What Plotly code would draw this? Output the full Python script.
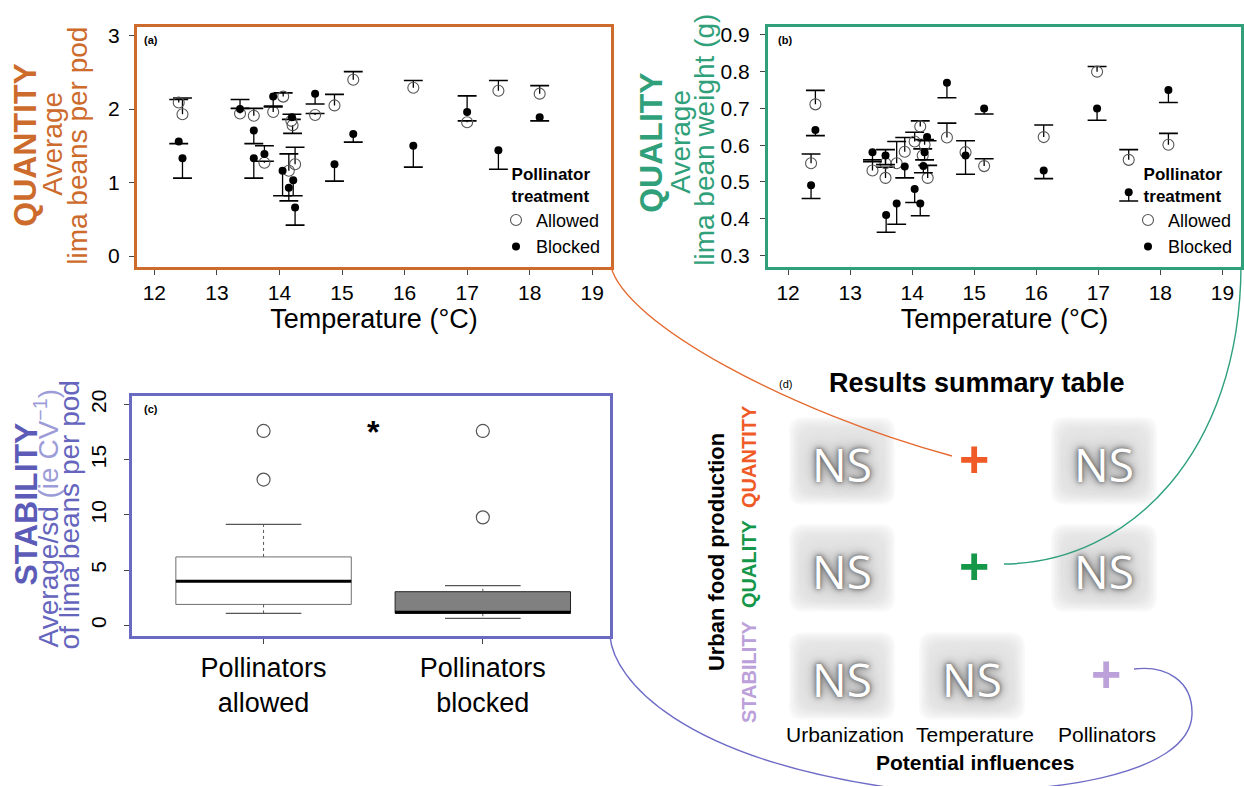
import plotly.graph_objects as go

FONT = "Liberation Sans, Arial, Helvetica, sans-serif"

# ---------------- (a) Quantity: average lima beans per pod ----------------
qty_allowed_temp = [12.39, 12.45, 13.37, 13.59, 13.76, 13.90, 14.06, 14.15, 14.25,
                    14.19, 14.21, 14.57, 14.88, 15.18, 16.14, 17.00, 17.50, 18.16]
qty_allowed_mean = [2.09, 1.93, 1.94, 1.91, 1.27, 1.96, 2.17, 1.16, 1.25,
                    1.84, 1.78, 1.92, 2.05, 2.40, 2.29, 1.82, 2.25, 2.21]
qty_allowed_end = [2.13, 2.15, 2.01, 2.01, 1.29, 2.04, 2.22, 1.39, 1.48,
                   1.86, 1.67, 1.94, 2.20, 2.51, 2.39, 1.84, 2.39, 2.32]

qty_blocked_temp = [12.39, 12.45, 13.37, 13.59, 13.59, 13.76, 13.90, 14.05, 14.15,
                    14.20, 14.22, 14.25, 14.57, 14.88, 15.18, 16.14, 17.00, 17.50, 18.16]
qty_blocked_mean = [1.56, 1.33, 2.00, 1.71, 1.33, 1.39, 2.17, 1.16, 0.93,
                    1.89, 1.03, 0.66, 2.21, 1.25, 1.66, 1.50, 1.96, 1.44, 1.89]
qty_blocked_end = [1.53, 1.06, 2.13, 1.53, 1.06, 1.50, 2.03, 0.82, 0.75,
                   1.93, 0.82, 0.42, 2.07, 1.02, 1.55, 1.21, 2.18, 1.18, 1.84]

# ---------------- (b) Quality: average lima bean weight (g) ----------------
qual_allowed_temp = [12.44, 12.37, 13.36, 13.57, 13.57, 13.75, 13.88, 14.04, 14.13, 14.20,
                     14.17, 14.25, 14.56, 14.86, 15.16, 16.12, 16.98, 17.49, 18.13]
qual_allowed_mean = [0.711, 0.551, 0.531, 0.551, 0.511, 0.551, 0.582, 0.610, 0.651, 0.601,
                     0.572, 0.511, 0.621, 0.581, 0.543, 0.622, 0.800, 0.560, 0.601]
qual_allowed_end = [0.749, 0.576, 0.560, 0.588, 0.540, 0.610, 0.621, 0.635, 0.666, 0.615,
                    0.590, 0.545, 0.660, 0.612, 0.563, 0.655, 0.814, 0.588, 0.632]

qual_blocked_temp = [12.44, 12.37, 13.36, 13.57, 13.58, 13.75, 13.88, 14.04, 14.13, 14.24,
                     14.20, 14.18, 14.56, 14.86, 15.16, 16.12, 16.98, 17.49, 18.13]
qual_blocked_mean = [0.641, 0.491, 0.581, 0.572, 0.410, 0.441, 0.542, 0.481, 0.441, 0.622,
                     0.581, 0.543, 0.770, 0.572, 0.700, 0.531, 0.700, 0.472, 0.750]
qual_blocked_end = [0.626, 0.455, 0.555, 0.547, 0.363, 0.385, 0.511, 0.444, 0.408, 0.612,
                    0.560, 0.525, 0.729, 0.521, 0.685, 0.509, 0.668, 0.448, 0.716]

temp_ticks = [12, 13, 14, 15, 16, 17, 18, 19]

# ---------------- (c) Stability: average/sd of lima beans per pod ----------------
box_pos = [1, 2]
box_labels = ["Pollinators<br>allowed", "Pollinators<br>blocked"]
box_q1 = [1.9, 1.1]
box_median = [4.0, 1.2]
box_q3 = [6.2, 3.05]
box_lower = [1.08, 0.63]
box_upper = [9.15, 3.6]
outlier_pos = [1, 1, 2, 2]
outlier_val = [13.2, 17.6, 9.78, 17.6]
BOX_WIDTH = 0.8

# ---------------- (d) Results summary table ----------------
table_rows = ["QUANTITY", "QUALITY", "STABILITY"]
table_cols = ["Urbanization", "Temperature", "Pollinators"]
table_cells = [["NS", "+", "NS"],
               ["NS", "+", "NS"],
               ["NS", "NS", "+"]]
row_colors = ["#EF5A26", "#15974A", "#BBA0DA"]

ORANGE = "#CD6B2C"
GREEN = "#30A07A"
BLUE = "#6A6AC2"

fig = go.Figure()


def one_sided(mean, end):
    plus = [max(e - m, 0) for m, e in zip(mean, end)]
    minus = [max(m - e, 0) for m, e in zip(mean, end)]
    return plus, minus


def add_treatment(temp, mean, end, xa, ya, name, marker, legend):
    plus, minus = one_sided(mean, end)
    # error bar caps
    fig.add_trace(go.Scatter(
        x=temp, y=end, mode="markers", xaxis=xa, yaxis=ya, showlegend=False,
        hoverinfo="skip",
        marker=dict(symbol="line-ew", size=13.5, color="black",
                    line=dict(width=1.6, color="black"))))
    fig.add_trace(go.Scatter(
        x=temp, y=mean, mode="markers", xaxis=xa, yaxis=ya, name=name,
        legend=legend, marker=marker,
        error_y=dict(type="data", symmetric=False, array=plus, arrayminus=minus,
                     width=0, thickness=1.3, color="black")))


open_marker = dict(symbol="circle-open", size=11, color="#555555", line=dict(width=1.1))
dot_marker = dict(symbol="circle", size=8, color="black")

add_treatment(qty_allowed_temp, qty_allowed_mean, qty_allowed_end, "x", "y",
              "Allowed", open_marker, "legend")
add_treatment(qty_blocked_temp, qty_blocked_mean, qty_blocked_end, "x", "y",
              "Blocked", dot_marker, "legend")
add_treatment(qual_allowed_temp, qual_allowed_mean, qual_allowed_end, "x2", "y2",
              "Allowed", open_marker, "legend2")
add_treatment(qual_blocked_temp, qual_blocked_mean, qual_blocked_end, "x2", "y2",
              "Blocked", dot_marker, "legend2")

# ---- boxplots (c)
box_fill = ["white", "#808080"]
box_edge = ["#6f6f6f", "#222222"]
for i, p in enumerate(box_pos):
    fig.add_trace(go.Box(
        x=[p], q1=[box_q1[i]], median=[box_median[i]], q3=[box_q3[i]],
        lowerfence=[box_q1[i]], upperfence=[box_q3[i]],
        width=BOX_WIDTH, whiskerwidth=0, fillcolor=box_fill[i],
        line=dict(color=box_edge[i], width=1), boxpoints=False,
        xaxis="x3", yaxis="y3", showlegend=False, hoverinfo="skip"))
    # dashed whiskers
    fig.add_trace(go.Scatter(
        x=[p, p, None, p, p], y=[box_q3[i], box_upper[i], None, box_q1[i], box_lower[i]],
        mode="lines", line=dict(color="#555555", width=1, dash="3px,3px"),
        xaxis="x3", yaxis="y3", showlegend=False, hoverinfo="skip"))
    # staples
    fig.add_trace(go.Scatter(
        x=[p, p], y=[box_lower[i], box_upper[i]], mode="markers",
        marker=dict(symbol="line-ew", size=54, line=dict(width=1.2, color="#555555")),
        xaxis="x3", yaxis="y3", showlegend=False, hoverinfo="skip"))
    # heavy median line
    fig.add_trace(go.Scatter(
        x=[p - BOX_WIDTH / 2, p + BOX_WIDTH / 2], y=[box_median[i], box_median[i]],
        mode="lines", line=dict(color="black", width=3),
        xaxis="x3", yaxis="y3", showlegend=False, hoverinfo="skip"))

fig.add_trace(go.Scatter(
    x=outlier_pos, y=outlier_val, mode="markers",
    marker=dict(symbol="circle-open", size=13, color="#555555", line=dict(width=1.2)),
    xaxis="x3", yaxis="y3", showlegend=False, hoverinfo="skip"))

W, H = 1244, 787


def dom_x(a, b):
    return [a / W, b / W]


def dom_y(top, bottom):
    return [1 - bottom / H, 1 - top / H]


tickfont = dict(family=FONT, size=21, color="black")
common = dict(showgrid=False, zeroline=False, ticks="outside", ticklen=5,
              tickcolor="#444444", tickwidth=1, showline=True, linewidth=3,
              mirror=True)
xtitle = dict(text="Temperature (°C)", font=dict(size=27), standoff=2)

fig.update_layout(
    width=W, height=H, margin=dict(l=0, r=0, t=0, b=0),
    paper_bgcolor="white", plot_bgcolor="rgba(0,0,0,0)",
    font=dict(family=FONT, color="black"),
    xaxis=dict(domain=dom_x(137, 611), anchor="y", range=[11.723, 19.30],
               tickvals=temp_ticks, linecolor=ORANGE, tickfont=tickfont,
               title=xtitle, **common),
    yaxis=dict(domain=dom_y(21, 263), anchor="x", range=[-0.145, 3.12],
               tickvals=[0, 1, 2, 3], linecolor=ORANGE, ticklabelstandoff=5,
               tickfont=tickfont, **common),
    xaxis2=dict(domain=dom_x(768, 1241), anchor="y2", range=[11.676, 19.30],
                tickvals=temp_ticks, linecolor=GREEN, tickfont=tickfont,
                title=xtitle, **common),
    yaxis2=dict(domain=dom_y(21, 263), anchor="x2", range=[0.2695, 0.922],
                tickvals=[0.3, 0.4, 0.5, 0.6, 0.7, 0.8, 0.9], tickformat=".1f",
                linecolor=GREEN, ticklabelstandoff=6, tickfont=tickfont, **common),
    xaxis3=dict(domain=dom_x(132, 610), anchor="y3", range=[0.4, 2.58],
                tickvals=box_pos, ticktext=box_labels, linecolor=BLUE,
                ticklabelstandoff=0, tickfont=dict(family=FONT, size=27), **common),
    yaxis3=dict(domain=dom_y(393, 636), anchor="x3", range=[-0.99, 20.81],
                tickvals=[0, 5, 10, 15, 20], tickangle=-90, linecolor=BLUE,
                ticklabelstandoff=10, tickfont=tickfont, **common),
    xaxis4=dict(domain=[0, 1], anchor="y4", range=[0, W], visible=False, fixedrange=True),
    yaxis4=dict(domain=[0, 1], anchor="x4", range=[H, 0], visible=False, fixedrange=True),
)

legend_common = dict(
    xanchor="right", yanchor="top", bgcolor="rgba(0,0,0,0)",
    font=dict(family=FONT, size=18, color="black"), itemwidth=30, tracegroupgap=0,
    title=dict(text="Pollinator<br>treatment", side="top center",
               font=dict(family=FONT, size=17, weight="bold")))
fig.update_layout(
    legend=dict(x=606 / W, y=1 - 153 / H, **legend_common),
    legend2=dict(x=1238 / W, y=1 - 153 / H, **legend_common),
)

ann = []


def text(x, y, s, size, color="black", bold=False, angle=0, ref=("x4", "y4"),
         family=FONT, shadow=None, xshift=0, yshift=0):
    font = dict(family=family, size=size, color=color,
                weight="bold" if bold else "normal")
    if shadow:
        font["shadow"] = shadow
    ann.append(dict(x=x, y=y, xref=ref[0], yref=ref[1], text=s, showarrow=False,
                    textangle=angle, xanchor="center", yanchor="middle",
                    xshift=xshift, yshift=yshift, font=font))


# stacked axis titles
text(25, 140, "QUANTITY", 32, ORANGE, True, -90)
text(53, 139, "Average", 28, ORANGE, angle=-90)
text(78, 141, "lima beans per pod", 28, ORANGE, angle=-90)

text(651, 138, "QUALITY", 32, GREEN, True, -90)
text(681, 137, "Average", 28, GREEN, angle=-90)
text(705, 135, "lima bean weight (g)", 28, GREEN, angle=-90)

text(26, 503, "STABILITY", 32, "#5C5CB8", True, -90)
text(47, 517, "Average/sd <span style='color:#9C9CD8'>(ie CV<sup>−1</sup>)</span>", 28,
     "#6565BE", angle=-90)
text(69, 514, "of lima beans per pod", 28, "#6565BE", angle=-90)

# panel letters
text(151, 34, "(a)", 11, bold=True)
text(785, 34, "(b)", 11, bold=True)
text(151, 407, "(c)", 11, bold=True)
text(785, 381, "(d)", 11)

# significance mark
text(1.5, 17.8, "*", 32, bold=True, ref=("x3", "y3"), yshift=-3)

# summary table
col_x = [842, 972, 1104]
row_y = [459, 567, 676]
text(977, 380, "Results summary table", 27, bold=True)
text(716, 551, "Urban food production", 22, bold=True, angle=-90)
for r, name in enumerate(table_rows):
    text(749, row_y[r] - 4, name, 20, row_colors[r], True, -90)
for c, name in enumerate(table_cols):
    text(col_x[c] + 3, 735, name, 21)
text(975, 763, "Potential influences", 21, bold=True)

shapes = []


def rrect(cx, cy, w, h, r):
    x0, x1, y0, y1 = cx - w / 2, cx + w / 2, cy - h / 2, cy + h / 2
    return (f"M{x0 + r},{y0} L{x1 - r},{y0} Q{x1},{y0} {x1},{y0 + r} "
            f"L{x1},{y1 - r} Q{x1},{y1} {x1 - r},{y1} L{x0 + r},{y1} "
            f"Q{x0},{y1} {x0},{y1 - r} L{x0},{y0 + r} Q{x0},{y0} {x0 + r},{y0} Z")


for r, row in enumerate(table_cells):
    for c, cell in enumerate(row):
        cx, cy = col_x[c], row_y[r]
        if cell == "NS":
            for k in range(6):
                shapes.append(dict(type="path", xref="x4", yref="y4", layer="below",
                                   path=rrect(cx, cy, 106 - 4 * k, 88 - 4 * k, 14),
                                   fillcolor="#dadada", opacity=0.17, line=dict(width=0)))
            text(cx, cy + 3, "NS", 46, "white", family="Open Sans, Noto Sans, sans-serif",
                 shadow="0px 0px 4px #555555, 0px 0px 10px #6a6a6a, 0px 0px 22px #8a8a8a")
        else:
            text(cx + 2, cy - 2, "<b>+</b>", 52, row_colors[r])

# connector curves from each panel to its row of the table
curves = [
    ("M611,263 C625,320 790,410 952,454", "#E46A2F"),
    ("M1241,263 C1240,450 1130,562 1004,563", "#2EA07E"),
    ("M610,636 C614,680 680,760 900,790 C1050,800 1190,775 1192,715 "
     "C1193,680 1165,665 1134,669", "#6E6CC6"),
]
for path, color in curves:
    shapes.append(dict(type="path", xref="x4", yref="y4", layer="above", path=path,
                       line=dict(color=color, width=1.4)))

fig.update_layout(annotations=ann, shapes=shapes)

fig.write_html("out.html")
